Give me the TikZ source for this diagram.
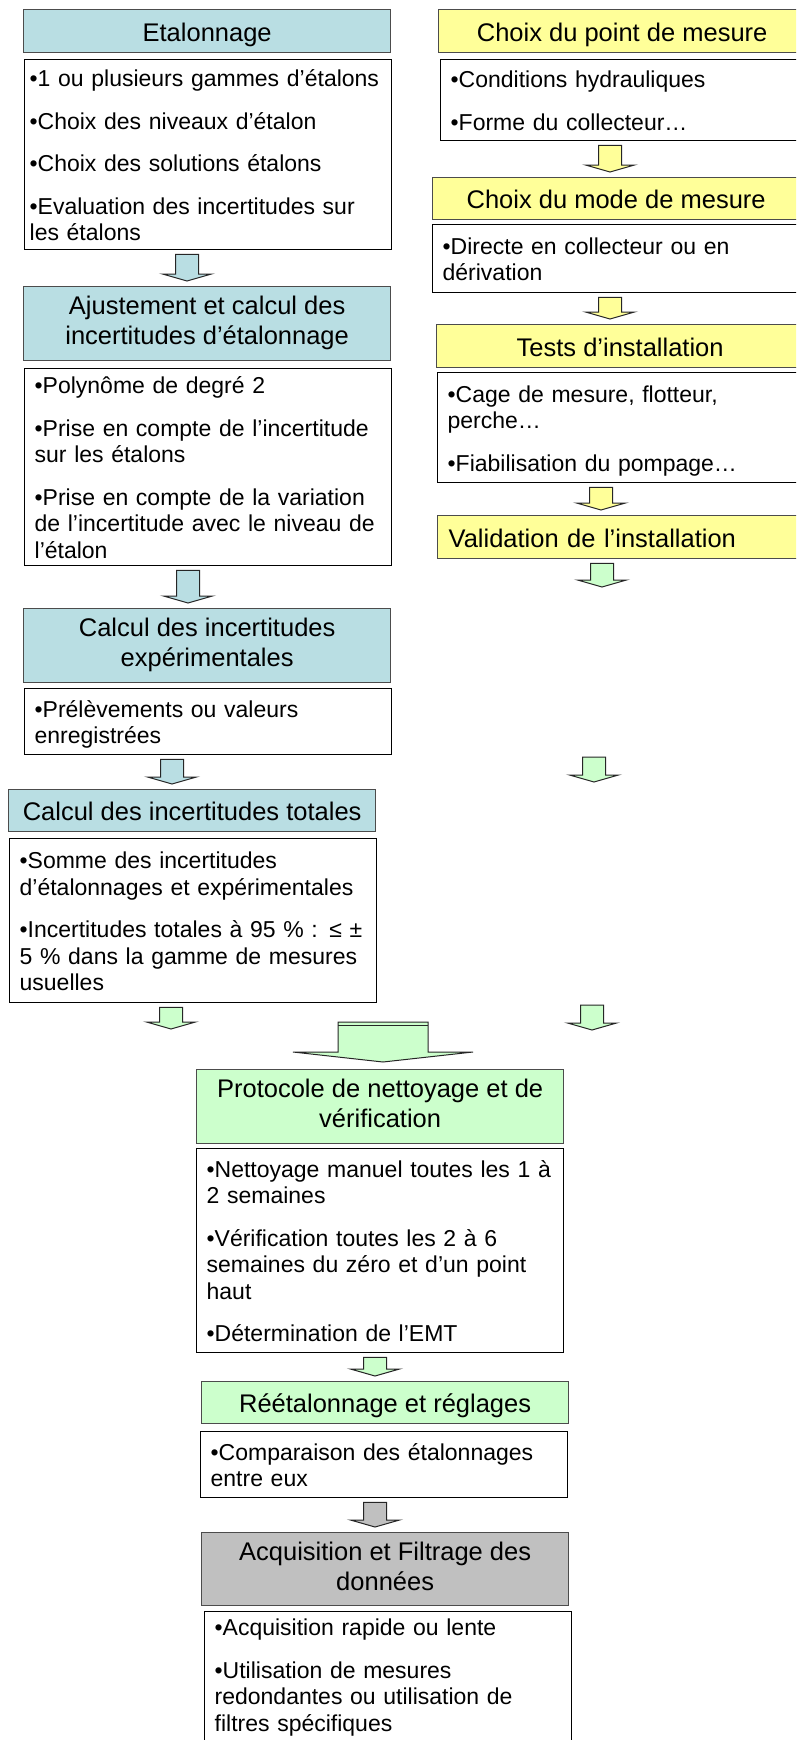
\documentclass[tikz,border=0pt]{standalone}
\usepackage{fontspec}
\setmainfont{Liberation Sans}
\usetikzlibrary{calc}

\definecolor{hdrblue}{RGB}{185,222,227}
\definecolor{hdryellow}{RGB}{255,255,153}
\definecolor{hdrgreen}{RGB}{204,255,204}
\definecolor{hdrgray}{RGB}{192,192,192}

\tikzset{
  hdr/.style={draw=black!70, line width=1.3pt, anchor=north west, minimum width=367pt,
    inner xsep=4pt, inner ysep=0pt, align=center, font=\fontsize{25.5}{30}\selectfont,
    execute at begin node={\rule{0pt}{26pt}},
    execute at end node={\rule[-6pt]{0pt}{6pt}}},
  bodybox/.style={draw=black, line width=1.3pt, anchor=north west, text width=347pt,
    inner xsep=10pt, inner ysep=0pt, align=left, font=\fontsize{23}{26.5}\selectfont,
    execute at begin node={\rule{0pt}{24pt}},
    execute at end node={\rule[-6pt]{0pt}{6pt}}},
  blockline/.style={draw=black!85, line width=1pt, line join=miter}
}

% block arrow: colour, x, start point, end point
\newcommand{\blockarrow}[4]{%
  \draw[blockline, fill=#1] let \p1=(#3), \p2=(#4) in
    ({#2-11.5},{\y1-4pt}) -- ({#2+11.5},{\y1-4pt}) -- ({#2+11.5},{\y2+12pt})
    -- ({#2+24.5},{\y2+12pt}) -- (#2,{\y2+5pt}) -- ({#2-24.5},{\y2+12pt})
    -- ({#2-11.5},{\y2+12pt}) -- cycle;
}

\begin{document}
\begin{tikzpicture}[x=1pt, y=-1pt]
\useasboundingbox (0,0) rectangle (796,1740);
\clip (0,0) rectangle (796,1740);

% Left column: etalonnage and uncertainties
\node[hdr, fill=hdrblue, minimum height=43pt] (etal) at (23,9) {Etalonnage};
\node[bodybox, minimum height=190pt, text width=357pt, inner xsep=5pt] (etalbody) at (24,59)
  {•1 ou plusieurs gammes d’étalons\\[16pt]
   •Choix des niveaux d’étalon\\[16pt]
   •Choix des solutions étalons\\[16pt]
   •Evaluation des incertitudes sur\\les étalons};
\node[hdr, fill=hdrblue, minimum height=74pt] (ajust) at (23,286)
  {Ajustement et calcul des\\incertitudes d’étalonnage};
\node[bodybox, minimum height=197pt] (ajustbody) at (24,368)
  {•Polynôme de degré 2\\[16pt]
   •Prise en compte de l’incertitude\\sur les étalons\\[16pt]
   •Prise en compte de la variation\\de l’incertitude avec le niveau de\\l’étalon};
\node[hdr, fill=hdrblue, minimum height=74pt] (exp) at (23,608)
  {Calcul des incertitudes\\expérimentales};
\node[bodybox, minimum height=66pt] (expbody) at (24,688)
  {•Prélèvements ou valeurs\\enregistrées};
\node[hdr, fill=hdrblue, minimum height=42pt] (tot) at (8,789)
  {Calcul des incertitudes totales};
\node[bodybox, minimum height=164pt] (totbody) at (9,838)
  {•Somme des incertitudes\\d’étalonnages et expérimentales\\[16pt]
   •Incertitudes totales à 95 \% : ≤ ±\\5 \% dans la gamme de mesures\\usuelles};

% Right column: measuring point
\node[hdr, fill=hdryellow, minimum height=43pt] (point) at (438,9) {Choix du point de mesure};
\node[bodybox, minimum height=81pt] (pointbody) at (440,59)
  {•Conditions hydrauliques\\[16pt]•Forme du collecteur…};
\node[hdr, fill=hdryellow, minimum height=42pt] (mode) at (432,177) {Choix du mode de mesure};
\node[bodybox, minimum height=68pt] (modebody) at (432,224)
  {•Directe en collecteur ou en\\dérivation};
\node[hdr, fill=hdryellow, minimum height=43pt] (tests) at (436,324) {Tests d’installation};
\node[bodybox, minimum height=110pt] (testsbody) at (437,372)
  {•Cage de mesure, flotteur,\\perche…\\[16pt]•Fiabilisation du pompage…};
\node[hdr, fill=hdryellow, minimum height=43pt, align=left, text width=345pt,
  inner xsep=11pt] (valid) at (437,515) {Validation de l’installation};

% Centre: cleaning, recalibration, acquisition
\node[hdr, fill=hdrgreen, minimum height=74pt] (proto) at (196,1069)
  {Protocole de nettoyage et de\\vérification};
\node[bodybox, minimum height=204pt] (protobody) at (196,1148)
  {•Nettoyage manuel toutes les 1 à\\2 semaines\\[16pt]
   •Vérification toutes les 2 à 6\\semaines du zéro et d’un point\\haut\\[16pt]
   •Détermination de l’EMT};
\node[hdr, fill=hdrgreen, minimum height=42pt] (reetal) at (201,1381)
  {Réétalonnage et réglages};
\node[bodybox, minimum height=66pt] (reetalbody) at (200,1431)
  {•Comparaison des étalonnages\\entre eux};
\node[hdr, fill=hdrgray, minimum height=73pt] (acq) at (201,1532)
  {Acquisition et Filtrage des\\données};
\node[bodybox] (acqbody) at (204,1611)
  {•Acquisition rapide ou lente\\[16pt]
   •Utilisation de mesures\\redondantes ou utilisation de\\filtres spécifiques\rule[-30pt]{0pt}{30pt}};

% free ends of the green arrows
\coordinate (totend) at (171,1034);
\coordinate (validend) at (602,592);
\coordinate (freeA) at (594,753);
\coordinate (freeB) at (594,787);
\coordinate (freeC) at (592,1001);
\coordinate (freeD) at (592,1035);

% block arrows
\blockarrow{hdrblue}{187}{etalbody.south}{ajust.north}
\blockarrow{hdrblue}{188}{ajustbody.south}{exp.north}
\blockarrow{hdrblue}{172}{expbody.south}{tot.north}
\blockarrow{hdrgreen}{171}{totbody.south}{totend}
\blockarrow{hdryellow}{610}{pointbody.south}{mode.north}
\blockarrow{hdryellow}{610}{modebody.south}{tests.north}
\blockarrow{hdryellow}{601}{testsbody.south}{valid.north}
\blockarrow{hdrgreen}{602}{valid.south}{validend}
\blockarrow{hdrgreen}{594}{freeA}{freeB}
\blockarrow{hdrgreen}{592}{freeC}{freeD}
\blockarrow{hdrgreen}{375}{protobody.south}{reetal.north}
\blockarrow{hdrgray}{375}{reetalbody.south}{acq.north}

% big arrow into the protocol box
\coordinate (bigtop) at (383,1022);
\draw[blockline, fill=hdrgreen] let \p1=(bigtop), \p2=(proto.north) in
  ({\x1-45pt},\y1) -- ({\x1+45pt},\y1) -- ({\x1+45pt},{\y2+17pt}) -- ({\x1+90pt},{\y2+17pt})
  -- (\x1,{\y2+7pt}) -- ({\x1-90pt},{\y2+17pt}) -- ({\x1-45pt},{\y2+17pt}) -- cycle;
\draw[line width=1.2pt, black!85] (338,1025.5) -- (428,1025.5);

\end{tikzpicture}
\end{document}
